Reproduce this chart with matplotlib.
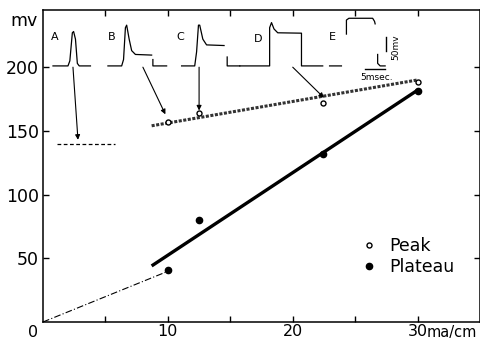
import numpy as np
import matplotlib
matplotlib.use('Agg')
from matplotlib import pyplot as plt
from matplotlib.lines import Line2D

# current (ma/cm) vs. potential (mv)
current = [10, 12.5, 22.4, 30]
peak = [157, 164, 172, 188]
plateau = [41, 80, 132, 181]

# fitted lines
peak_fit_x = [8.7, 30]
peak_fit_y = [154, 190]
plateau_fit_x = [8.7, 30]
plateau_fit_y = [44, 182]
extrap_x = [0, 9.8]
extrap_y = [0, 39]
threshold_x = [1.1, 5.8]
threshold_y = [140, 140]

# oscilloscope traces (drawn in the same axes, above the data)
traces = {
    'A': ([0.8, 2.0, 2.15, 2.35, 2.45, 2.6, 2.75, 2.9, 3.8],
          [201, 201, 205, 227, 228, 222, 203, 201, 201]),
    'B': ([5.2, 6.3, 6.45, 6.6, 6.7, 6.9, 7.1, 7.4, 8.7, np.nan, 8.8, 8.8, 9.9],
          [201, 201, 206, 231, 233, 222, 213, 210, 209.5, np.nan, 206, 201, 201]),
    'C': ([11.1, 12.15, 12.3, 12.45, 12.55, 12.8, 13.1, 14.5, np.nan, 14.75, 14.75, 15.76],
          [201, 201, 212, 233, 233, 222, 217.5, 217, np.nan, 208, 201, 201]),
    'D': ([15.76, 18.15, 18.15, 18.3, 18.5, 18.8, 20.7, 20.7, 22.4, np.nan, 22.95, 23.9],
          [201, 201, 231, 235, 230, 227, 226.7, 201, 201, np.nan, 201, 201]),
    'E': ([24.3, 24.3, 24.5, 26.4, 26.55, 26.6, np.nan, 26.8, 26.8, 27.0, 27.4],
          [226, 237, 238.4, 238.4, 236, 234, np.nan, 210, 203, 201, 201]),
}
trace_label_x = [0.96, 5.5, 11.0, 17.2, 23.2]
trace_label_y = [223.5, 223.5, 224, 222, 223.5]

# arrows from traces to the measured points: (tail, head)
arrows = [((2.4, 200), (2.8, 143)),
          ((8.0, 200), (9.8, 163)),
          ((12.5, 200), (12.5, 166)),
          ((20.0, 200), (22.5, 176))]

fig = plt.figure(figsize=(4.81, 3.40), dpi=100)
ax = fig.add_axes([0.0894, 0.053, 0.9086, 0.918])
plt.rcParams['font.family'] = 'DejaVu Sans'

ax.plot(extrap_x, extrap_y, color='k', lw=0.8, linestyle=(0, (6, 2, 1, 2)))
ax.plot(peak_fit_x, peak_fit_y, color='#333333', lw=2.2, linestyle=(0, (1, 0.5)))
ax.plot(plateau_fit_x, plateau_fit_y, color='k', lw=2.4, solid_capstyle='butt')
ax.plot(threshold_x, threshold_y, color='k', lw=0.9, linestyle=(0, (3, 2)))

ax.plot(current, peak, 'o', ms=3.6, mfc='white', mec='k', mew=1.0)
ax.plot(current, plateau, 'o', ms=4.5, color='k')

for name, (tx, ty) in traces.items():
    ax.plot(tx, ty, color='k', lw=0.9)
for lab, lx, ly in zip(traces.keys(), trace_label_x, trace_label_y):
    ax.text(lx, ly, lab, fontsize=8, ha='center', va='center')

# scale bars
ax.plot([27.5, 27.5], [213, 224], color='k', lw=1.0)
ax.plot([25.8, 27.4], [198.5, 198.5], color='k', lw=1.0)
ax.text(28.25, 216, '50mv', rotation=90, fontsize=6.5, ha='center', va='center')
ax.text(26.7, 192, '5msec.', fontsize=6.5, ha='center', va='center')

for tail, head in arrows:
    ax.annotate('', xy=head, xytext=tail,
                arrowprops=dict(arrowstyle='-|>', lw=0.8, color='k',
                                mutation_scale=7, shrinkA=0, shrinkB=0))

ax.set_xlim(0, 35)
ax.set_ylim(0, 245)
ax.set_xticks([5, 10, 15, 20, 25, 30])
ax.set_xticklabels(['', '10', '', '20', '', '30'])
ax.set_yticks([50, 100, 150, 200])
ax.set_yticklabels(['50', '100', '150', '200'])
ax.tick_params(direction='in', top=True, right=True, length=4, width=1,
               labelsize=12.5, pad=3)
ax.tick_params(axis='x', labelsize=11.5, pad=1.5)
for s in ax.spines.values():
    s.set_linewidth(1.1)

ax.text(30.75, -2.5, 'ma/cm', fontsize=10.5, ha='left', va='top', clip_on=False)
ax.text(-0.8, -2.5, '0', fontsize=11.5, ha='center', va='top', clip_on=False)
ax.text(-0.4, 236, 'mv', fontsize=12.5, ha='right', va='center', clip_on=False)

handles = [Line2D([], [], marker='o', ls='', ms=3.6, mfc='white', mec='k'),
           Line2D([], [], marker='o', ls='', ms=4.5, color='k')]
ax.legend(handles, ['Peak', 'Plateau'], loc='center left',
          bbox_to_anchor=(0.69, 0.21), frameon=False, fontsize=12.5,
          handlelength=1, handletextpad=0.7, labelspacing=0.2)

fig.savefig('out.png', dpi=100)
